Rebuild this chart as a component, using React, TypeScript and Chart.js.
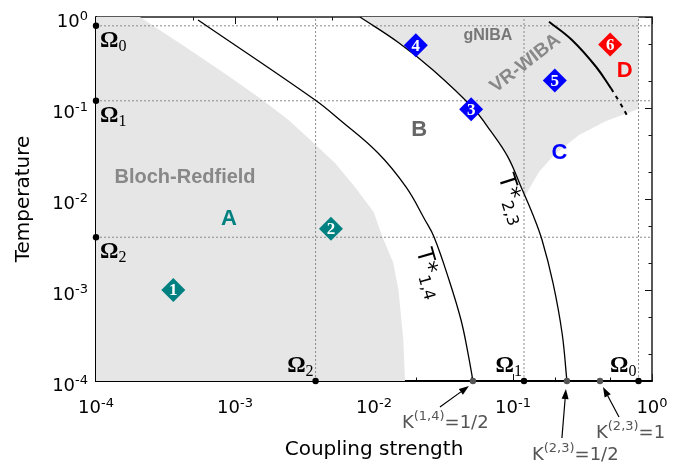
import React, { useEffect, useRef } from 'react';
import { Chart, registerables } from 'chart.js';

Chart.register(...registerables);

// ---------------- data ----------------
const axisMin = 1e-4;
const axisMax = 1;
const decadeTicks = [1e-4, 1e-3, 1e-2, 1e-1, 1];
const decadeExponents = ['-4', '-3', '-2', '-1', '0'];
const minorTicks = [2e-4, 5e-4, 2e-3, 5e-3, 2e-2, 5e-2, 0.2, 0.5];

const omegaValues = [0.8, 0.12, 0.0038];
const omegaIndices = ['0', '1', '2'];

// Bloch-Redfield boundary (coupling, T)
const blochRedfieldEdge: [number, number][] = [
  [2.07e-4, 1], [4.74e-4, 0.434], [8.75e-4, 0.2306], [1.578e-3, 0.1225],
  [2.43e-3, 0.0738], [3.49e-3, 0.0445], [5.24e-3, 0.0249], [7.29e-3, 0.01355],
  [9.95e-3, 7.2e-3], [0.0115, 3.82e-3], [0.0137, 2.03e-3], [0.015, 1e-3],
  [0.01626, 2.82e-4], [0.0167, 1e-4],
];

const curveT14: [number, number][] = [
  [5.42e-4, 0.927], [3.77e-3, 0.1225], [5.69e-3, 0.0738], [0.01069, 0.032],
  [0.01698, 0.01355], [0.02328, 5.88e-3], [0.02704, 3.82e-3], [0.03467, 1.288e-3],
  [0.04227, 4.68e-4], [0.04742, 2.03e-4], [0.0515, 1e-4],
];

const curveT23: [number, number][] = [
  [7.93e-3, 1], [0.01514, 0.518], [0.02655, 0.2616], [0.0515, 0.1],
  [0.069, 0.0559], [0.0918, 0.029], [0.1143, 0.01355], [0.1393, 6.67e-3],
  [0.1618, 3.54e-3], [0.1941, 1.19e-3], [0.2254, 3.37e-4], [0.2443, 1e-4],
];

const curveDSolid: [number, number][] = [
  [0.1815, 0.888], [0.2655, 0.559], [0.3955, 0.284], [0.507, 0.1645],
];
const curveDDashed: [number, number][] = [
  [0.507, 0.1645], [0.589, 0.1135], [0.671, 0.0796],
];

const boundaryC: [number, number][] = [
  [0.122, 0.0108], [0.1538, 0.01981], [0.197, 0.0305], [0.2985, 0.0505],
  [0.4667, 0.072], [0.8, 0.0975],
];
const boundaryGNIBA: [number, number][] = [[0.01578, 0.492], [0.8, 0.363]];
const regionXMax = 0.8;

const diamondX = [3.6e-4, 4.9e-3, 0.05, 0.02, 0.2, 0.5];
const diamondY = [1e-3, 4.7e-3, 0.097, 0.49, 0.2, 0.5];
const diamondLabels = ['1', '2', '3', '4', '5', '6'];

const kPointsX = [0.0515, 0.2443, 0.4225];
const kSuperscripts = ['(1,4)', '(2,3)', '(2,3)'];
const kValues = ['=1/2', '=1/2', '=1'];

const regionLabels = [
  { text: 'A', x: 9.06e-4, y: 6.1e-3 },
  { text: 'B', x: 0.0211, y: 0.0573 },
  { text: 'C', x: 0.216, y: 0.0318 },
  { text: 'D', x: 0.637, y: 0.258 },
  { text: 'Bloch-Redfield', x: 4.37e-4, y: 0.01745 },
  { text: 'gNIBA', x: 0.066, y: 0.618 },
  { text: 'VR-WIBA', x: 0.123, y: 0.31 },
];

const crossoverLabels = [
  { main: 'T*', sub: '1,4', x: 0.0221, y: 2.82e-3 },
  { main: 'T*', sub: '2,3', x: 0.0861, y: 0.01836 },
];

// ---------------- styles ----------------
const diamondColors = ['#008080', '#008080', '#0000ff', '#0000ff', '#0000ff', '#ff0000'];
const regionLabelStyles = [
  { color: '#008080', size: 22, angle: 0 },
  { color: '#666666', size: 22, angle: 0 },
  { color: '#0000ff', size: 22, angle: 0 },
  { color: '#ff0000', size: 22, angle: 0 },
  { color: '#888888', size: 20, angle: 0 },
  { color: '#777777', size: 16, angle: 0 },
  { color: '#888888', size: 19, angle: -38 },
];
const crossoverAngles = [74, 72];
// offsets (px) relative to K dots: text start, arrow tail, arrow head
const kAnnot = [
  { tx: -71, ty: 47, ax: -33, ay: 26, hx: -4, hy: 5 },
  { tx: -35, ty: 79, ax: -5, ay: 57, hx: -1, hy: 8 },
  { tx: -4, ty: 57, ax: 19, ay: 36, hx: 3, hy: 6 },
];

const SANS = '"DejaVu Sans", sans-serif';
const ARIAL = '"Liberation Sans", Arial, sans-serif';
const SERIF = '"Liberation Serif", "Times New Roman", serif';

const pts = (arr: [number, number][]) => arr.map(([x, y]) => ({ x, y }));

type Part = { text: string; font: string; dy?: number; color?: string };

function drawParts(ctx: CanvasRenderingContext2D, x: number, y: number, parts: Part[], align: 'left' | 'center' | 'right', color: string) {
  let total = 0;
  const widths = parts.map((p) => {
    ctx.font = p.font;
    const w = ctx.measureText(p.text).width;
    total += w;
    return w;
  });
  let cx = align === 'center' ? x - total / 2 : align === 'right' ? x - total : x;
  ctx.textAlign = 'left';
  parts.forEach((p, i) => {
    ctx.font = p.font;
    ctx.fillStyle = p.color || color;
    ctx.fillText(p.text, cx, y + (p.dy || 0));
    cx += widths[i];
  });
}

function drawArrow(ctx: CanvasRenderingContext2D, x1: number, y1: number, x2: number, y2: number) {
  const ang = Math.atan2(y2 - y1, x2 - x1);
  const len = 10;
  const w = 3.5;
  const bx = x2 - len * Math.cos(ang);
  const by = y2 - len * Math.sin(ang);
  ctx.strokeStyle = '#000';
  ctx.fillStyle = '#000';
  ctx.lineWidth = 1.2;
  ctx.beginPath();
  ctx.moveTo(x1, y1);
  ctx.lineTo(bx, by);
  ctx.stroke();
  ctx.beginPath();
  ctx.moveTo(x2, y2);
  ctx.lineTo(bx + w * Math.sin(ang), by - w * Math.cos(ang));
  ctx.lineTo(bx - w * Math.sin(ang), by + w * Math.cos(ang));
  ctx.closePath();
  ctx.fill();
}

function drawFrame(chart: any) {
  const { ctx, chartArea: a, scales } = chart;
  const xs = scales.x;
  const ys = scales.y;
  ctx.save();
  ctx.strokeStyle = '#111';
  ctx.lineWidth = 1;
  const ticks = [
    ...decadeTicks.map((v) => ({ v, len: 7 })),
    ...minorTicks.map((v) => ({ v, len: 3.5 })),
  ];
  ctx.beginPath();
  ticks.forEach(({ v, len }) => {
    const x = Math.round(xs.getPixelForValue(v)) + 0.5;
    const y = Math.round(ys.getPixelForValue(v)) + 0.5;
    ctx.moveTo(x, a.bottom); ctx.lineTo(x, a.bottom - len);
    ctx.moveTo(x, a.top); ctx.lineTo(x, a.top + len);
    ctx.moveTo(a.left, y); ctx.lineTo(a.left + len, y);
    ctx.moveTo(a.right, y); ctx.lineTo(a.right - len, y);
  });
  ctx.stroke();
  ctx.strokeStyle = '#222';
  ctx.lineWidth = 1.5;
  ctx.beginPath();
  ctx.moveTo(a.left, a.top); ctx.lineTo(a.right, a.top); ctx.lineTo(a.right, a.bottom);
  ctx.stroke();
  ctx.strokeStyle = '#000';
  ctx.lineWidth = 2;
  ctx.beginPath();
  ctx.moveTo(a.left, a.top - 0.75); ctx.lineTo(a.left, a.bottom); ctx.lineTo(a.right + 0.75, a.bottom);
  ctx.stroke();
  ctx.restore();
}

const decorPlugin = {
  id: 'phaseDecor',
  afterDatasetDraw(chart: any, args: any) {
    const ds = chart.data.datasets[args.index];
    if (ds && ds.frameAfter) drawFrame(chart);
  },
  afterDatasetsDraw(chart: any) {
    const { ctx, chartArea: a, scales } = chart;
    const xs = scales.x;
    const ys = scales.y;
    ctx.save();
    ctx.textBaseline = 'alphabetic';

    // tick labels
    decadeTicks.forEach((v, i) => {
      const x = xs.getPixelForValue(v);
      drawParts(ctx, x, 413, [
        { text: '10', font: `18px ${SANS}` },
        { text: decadeExponents[i], font: `13px ${SANS}`, dy: -6.5 },
      ], 'center', '#000');
      const y = ys.getPixelForValue(v);
      drawParts(ctx, a.left - 8, y + 9.5, [
        { text: '10', font: `18px ${SANS}` },
        { text: decadeExponents[i], font: `13px ${SANS}`, dy: -6.5 },
      ], 'right', '#000');
    });

    // axis titles
    ctx.fillStyle = '#000';
    ctx.font = `20px ${SANS}`;
    ctx.textAlign = 'center';
    ctx.fillText('Coupling strength', (a.left + a.right) / 2, 455);
    ctx.save();
    ctx.translate(24, (a.top + a.bottom) / 2);
    ctx.rotate(-Math.PI / 2);
    ctx.textBaseline = 'middle';
    ctx.fillText('Temperature', 0, 0);
    ctx.restore();

    // region labels
    regionLabels.forEach((l, i) => {
      const st = regionLabelStyles[i];
      ctx.save();
      ctx.translate(xs.getPixelForValue(l.x), ys.getPixelForValue(l.y));
      ctx.rotate((st.angle * Math.PI) / 180);
      ctx.font = `bold ${st.size}px ${ARIAL}`;
      ctx.fillStyle = st.color;
      ctx.textAlign = 'center';
      ctx.textBaseline = 'middle';
      ctx.fillText(l.text, 0, 0);
      ctx.restore();
    });

    // crossover labels
    crossoverLabels.forEach((l, i) => {
      ctx.save();
      ctx.translate(xs.getPixelForValue(l.x), ys.getPixelForValue(l.y));
      ctx.rotate((crossoverAngles[i] * Math.PI) / 180);
      ctx.textBaseline = 'middle';
      drawParts(ctx, 0, 0, [
        { text: l.main, font: `23px ${SANS}` },
        { text: l.sub, font: `16px ${SANS}`, dy: 7 },
      ], 'left', '#000');
      ctx.restore();
    });

    // diamond numbers
    ctx.textBaseline = 'middle';
    ctx.textAlign = 'center';
    ctx.font = `bold 17px ${SERIF}`;
    ctx.fillStyle = '#fff';
    diamondX.forEach((x, i) => {
      ctx.fillText(diamondLabels[i], xs.getPixelForValue(x), ys.getPixelForValue(diamondY[i]) + 1);
    });

    // omega labels
    ctx.textBaseline = 'alphabetic';
    omegaValues.forEach((v, i) => {
      const py = ys.getPixelForValue(v);
      drawParts(ctx, a.left + 4, py + 21, [
        { text: 'Ω', font: `bold 23px ${SERIF}` },
        { text: omegaIndices[i], font: `16px ${SERIF}`, dy: 4 },
      ], 'left', '#000');
      const px = xs.getPixelForValue(v);
      drawParts(ctx, px - 2, a.bottom - 9, [
        { text: 'Ω', font: `bold 23px ${SERIF}` },
        { text: omegaIndices[i], font: `16px ${SERIF}`, dy: 4 },
      ], 'right', '#000');
    });

    // K annotations
    kPointsX.forEach((v, i) => {
      const px = xs.getPixelForValue(v);
      const py = a.bottom;
      const o = kAnnot[i];
      drawArrow(ctx, px + o.ax, py + o.ay, px + o.hx, py + o.hy);
      drawParts(ctx, px + o.tx, py + o.ty, [
        { text: 'K', font: `18px ${SANS}` },
        { text: kSuperscripts[i], font: `13px ${SANS}`, dy: -8 },
        { text: kValues[i], font: `18px ${SANS}` },
      ], 'left', '#555');
    });

    ctx.restore();
  },
};

export default function App() {
  const canvasRef = useRef<HTMLCanvasElement | null>(null);

  useEffect(() => {
    if (!canvasRef.current) return;

    const blochPoly = [{ x: axisMin, y: axisMin }, { x: axisMin, y: axisMax }, ...pts(blochRedfieldEdge)];
    const upperIdx = curveT23.findIndex(([, y]) => y < 0.013);
    const vrPoly = [...pts(curveT23.slice(0, upperIdx)), ...pts(boundaryC), { x: regionXMax, y: axisMax }];
    const gnibaPoly = [...pts(curveT23.slice(0, 2)), ...pts(boundaryGNIBA), { x: regionXMax, y: axisMax }];

    const fillDs = (data: any[], color: string, extra: any = {}) => ({
      data, fill: 'shape', backgroundColor: color, borderWidth: 0, pointRadius: 0, tension: 0, order: 10, ...extra,
    });
    const gridDs = (data: any[]) => ({
      data, borderColor: '#8a8a8a', borderWidth: 1, borderDash: [2, 2], pointRadius: 0, fill: false, order: 8, tension: 0,
    });
    const curveDs = (data: any[], width: number, dash: number[] = []) => ({
      data, borderColor: '#000', borderWidth: width, borderDash: dash, pointRadius: 0, fill: false, order: 5,
      tension: 0.4,
    });

    const grids = [
      ...omegaValues.map((v) => gridDs([{ x: v, y: axisMin }, { x: v, y: axisMax }])),
      ...omegaValues.map((v) => gridDs([{ x: axisMin, y: v }, { x: axisMax, y: v }])),
    ];

    const chart = new Chart(canvasRef.current, {
      type: 'line',
      data: {
        datasets: [
          fillDs(blochPoly, '#e6e6e6'),
          fillDs(vrPoly, '#e6e6e6'),
          fillDs(gnibaPoly, '#c9c9c9', { frameAfter: true }),
          ...grids,
          curveDs(pts(curveT14), 1.3),
          curveDs(pts(curveT23), 1.3),
          curveDs(pts(curveDSolid), 2),
          curveDs(pts(curveDDashed), 2, [4, 5]),
          {
            data: diamondX.map((x, i) => ({ x, y: diamondY[i] })),
            showLine: false,
            pointStyle: 'rectRot',
            pointRadius: 12,
            pointBackgroundColor: diamondColors,
            pointBorderWidth: 0,
            order: 2,
          },
          {
            data: [
              ...omegaValues.map((v) => ({ x: axisMin, y: v })),
              ...omegaValues.map((v) => ({ x: v, y: axisMin })),
            ],
            showLine: false,
            pointRadius: 3.2,
            pointBackgroundColor: '#000',
            pointBorderWidth: 0,
            clip: false,
            order: 1,
          },
          {
            data: kPointsX.map((x) => ({ x, y: axisMin })),
            showLine: false,
            pointRadius: 3.2,
            pointBackgroundColor: '#555',
            pointBorderWidth: 0,
            clip: false,
            order: 1,
          },
        ] as any,
      },
      options: {
        responsive: false,
        animation: false,
        events: [],
        layout: { padding: { left: 0, top: 17, right: 31, bottom: 0 } },
        scales: {
          x: {
            type: 'logarithmic',
            min: axisMin,
            max: axisMax,
            grid: { display: false },
            border: { display: false },
            ticks: { display: false },
            afterFit: (s: any) => { s.height = 87; },
          },
          y: {
            type: 'logarithmic',
            min: axisMin,
            max: axisMax,
            grid: { display: false },
            border: { display: false },
            ticks: { display: false },
            afterFit: (s: any) => { s.width = 96; },
          },
        },
        plugins: {
          legend: { display: false },
          tooltip: { enabled: false },
          filler: { propagate: false, drawTime: 'beforeDatasetDraw' },
        } as any,
      } as any,
      plugins: [decorPlugin as any],
    });

    return () => chart.destroy();
  }, []);

  return (
    <div style={{ position: 'fixed', left: 0, top: 0, width: 683, height: 468, background: '#fff' }}>
      <canvas ref={canvasRef} width={683} height={468} style={{ display: 'block' }} />
    </div>
  );
}
